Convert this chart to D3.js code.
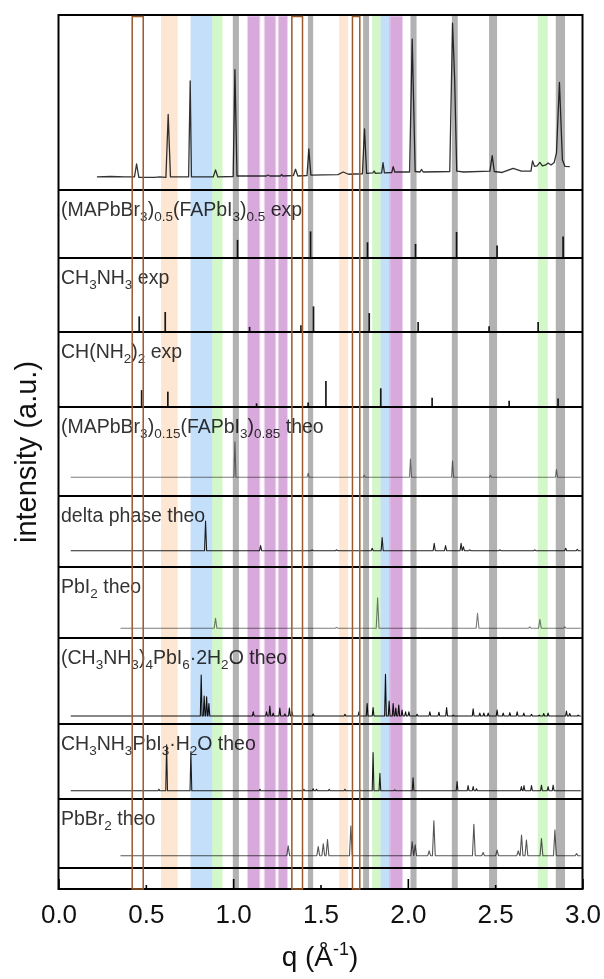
<!DOCTYPE html>
<html><head><meta charset="utf-8">
<script src="https://cdn.jsdelivr.net/npm/d3@7"></script>
<style>body{margin:0;background:#fff}</style>
</head><body>
<svg id="chart" width="604" height="979"></svg>
<script>
// ---------------- DATA ----------------
const xTicks = [0.0, 0.5, 1.0, 1.5, 2.0, 2.5, 3.0];

const panelLabels = [
  "(MAPbBr_{3})_{0.5}(FAPbI_{3})_{0.5} exp",
  "CH_{3}NH_{3} exp",
  "CH(NH_{2})_{2} exp",
  "(MAPbBr_{3})_{0.15}(FAPbI_{3})_{0.85} theo",
  "delta phase theo",
  "PbI_{2} theo",
  "(CH_{3}NH_{3})_{4}PbI_{6}·2H_{2}O theo",
  "CH_{3}NH_{3}PbI_{3}·H_{2}O theo",
  "PbBr_{2} theo"
];

// measured pattern (top panel): [q, intensity a.u.]
const measured = [[0.22,1.9],[0.30,2.2],[0.38,1.9],[0.435,1.9],[0.447,10],[0.46,1.6],[0.55,1.6],[0.58,1.9],[0.615,1.6],[0.628,41],[0.641,1.9],[0.745,1.9],[0.754,62],[0.761,1.9],[0.886,1.9],[0.899,6.3],[0.912,1.9],[1.0,2.2],[1.010,69],[1.022,2.5],[1.19,2.5],[1.199,3.1],[1.21,2.5],[1.27,2.5],[1.277,3.4],[1.285,2.5],[1.345,2.8],[1.357,6.7],[1.37,2.5],[1.423,2.8],[1.433,19.4],[1.445,3.1],[1.60,3.4],[1.63,5],[1.66,3.6],[1.74,3.9],[1.752,32],[1.764,4.1],[1.80,4.4],[1.807,5.6],[1.815,4.1],[1.85,4.4],[1.858,10.8],[1.866,4.4],[1.908,4.7],[1.916,8.3],[1.925,5],[2.01,5],[2.025,88],[2.032,54],[2.042,5.3],[2.07,5],[2.078,6.6],[2.088,5],[2.24,5.3],[2.256,98],[2.268,63],[2.28,5.6],[2.32,5],[2.47,5.6],[2.483,15.2],[2.495,5.3],[2.54,4.7],[2.603,7.3],[2.65,5.6],[2.705,5.6],[2.714,11.9],[2.725,8.5],[2.74,8.8],[2.756,11],[2.77,8.8],[2.79,9.4],[2.803,10.6],[2.82,9.4],[2.838,11],[2.851,16.9],[2.868,61],[2.885,12.5],[2.9,8.5],[2.927,8.3]];

// stick patterns [q, relative intensity]
const mixExp = [[1.025,68],[1.443,100],[1.769,59],[2.044,53],[2.279,98],[2.511,47],[2.889,81]];
const maExp  = [[0.462,61],[0.611,78],[1.094,20],[1.388,26],[1.460,100],[1.779,74],[2.059,39],[2.465,22],[2.746,39]];
const faExp  = [[0.476,65],[0.626,59],[1.134,14],[1.429,17],[1.531,100],[1.845,72],[2.139,36],[2.580,24],[2.860,33]];

// theoretical patterns, peaks [q, relative intensity]
const mixTheo = [[1.010,100],[1.429,11],[1.75,6],[2.015,51],[2.256,46],[2.473,6],[2.851,22]];
const deltaTheo = [[0.842,100],[1.157,17],[1.452,3],[1.592,3],[1.796,8],[1.853,44],[2.151,25],[2.216,17],[2.305,25],[2.318,13],[2.355,3],[2.527,3],[2.727,3],[2.904,8],[2.97,5]];
const pbi2Theo = [[0.899,33],[1.592,3],[1.827,100],[2.399,49],[2.698,5],[2.756,29],[2.899,5]];
const dihydrateTheo = [[0.817,98],[0.834,48],[0.848,46],[0.861,30],[1.115,10],[1.191,10],[1.21,24],[1.229,7],[1.267,19],[1.296,5],[1.322,19],[1.337,10],[1.458,5],[1.64,4],[1.72,10],[1.767,30],[1.801,20],[1.872,100],[1.893,36],[1.916,30],[1.931,19],[1.948,26],[1.967,14],[1.987,10],[2.006,10],[2.053,4],[2.126,10],[2.178,9],[2.222,20],[2.26,2],[2.374,17],[2.412,7],[2.435,7],[2.46,7],[2.511,14],[2.546,7],[2.584,8],[2.626,10],[2.664,7],[2.708,4],[2.752,2],[2.778,6],[2.803,7],[2.908,12],[2.927,6],[2.975,2]];
const monohydrateTheo = [[0.575,3],[0.619,100],[0.758,85],[1.153,3],[1.405,3],[1.458,4],[1.477,3],[1.55,3],[1.64,3],[1.725,2],[1.801,83],[1.84,38],[1.925,2],[2.03,28],[2.282,20],[2.345,11],[2.374,9],[2.393,4],[2.65,9],[2.665,11],[2.708,11],[2.765,12],[2.803,9],[2.832,12]];
const pbbr2Theo = [[1.315,28],[1.487,26],[1.516,34],[1.54,46],[1.674,85],[2.025,40],[2.042,31],[2.122,14],[2.149,100],[2.378,90],[2.431,9],[2.511,16],[2.632,14],[2.651,59],[2.679,45],[2.765,49],[2.842,73],[2.966,6]];

// highlighted q ranges
const orangeBands = [[0.587,0.682],[1.607,1.658]];
const blueBands   = [[0.756,0.880],[1.844,1.897]];
const greenBands  = [[0.880,0.939],[1.796,1.844],[2.744,2.801]];
const grayBands   = [[0.998,1.033],[1.428,1.458],[1.744,1.778],[2.015,2.050],[2.252,2.286],[2.465,2.511],[2.847,2.900]];
const purpleBands = [[1.082,1.153],[1.178,1.244],[1.258,1.311],[1.897,1.970]];
const brownBoxes  = [[0.422,0.485],[1.336,1.397],[1.683,1.725]];

// ---------------- LAYOUT ----------------
const FONT = "'Liberation Sans', Arial, Helvetica, sans-serif";
const svg = d3.select("#chart");
const x = d3.scaleLinear().domain([0, 3]).range([58.5, 582.5]);
const frameTop = 15, frameBottom = 889;
const dividers = [190, 258, 332, 407, 496, 567, 638, 724, 799, 868];

// top panel
const yTop = d3.scaleLinear().domain([0, 100]).range([180, 20]);
svg.append("path").datum(measured)
  .attr("d", d3.line().x(d => x(d[0])).y(d => yTop(d[1])))
  .attr("fill", "none").attr("stroke", "#333").attr("stroke-width", 1.3)
  .attr("stroke-linejoin", "round");

// stick panels
const stickPanels = [
  {data: mixExp, base: 258, full: 231.4},
  {data: maExp,  base: 332, full: 306.4},
  {data: faExp,  base: 407, full: 381}
];
stickPanels.forEach(p => {
  const y = d3.scaleLinear().domain([0, 100]).range([p.base, p.full]);
  svg.append("g").selectAll("line").data(p.data).join("line")
    .attr("x1", d => x(d[0])).attr("x2", d => x(d[0]))
    .attr("y1", y(0)).attr("y2", d => y(d[1]))
    .attr("stroke", "#1a1a1a").attr("stroke-width", 1.7);
});

// theoretical traces
const theoPanels = [
  {data: mixTheo, base: 477.3, full: 441.7, start: 0.07, end: 2.99, hw: 0.006, color: "#7d7d7d"},
  {data: deltaTheo, base: 550.7, full: 521, start: 0.07, end: 2.99, hw: 0.006, color: "#222"},
  {data: pbi2Theo, base: 628.3, full: 597.7, start: 0.355, end: 2.99, hw: 0.008, color: "#7d7d7d"},
  {data: dihydrateTheo, base: 716, full: 674.3, start: 0.07, end: 2.99, hw: 0.005, color: "#111"},
  {data: monohydrateTheo, base: 790.7, full: 744.7, start: 0.07, end: 2.99, hw: 0.005, color: "#222"},
  {data: pbbr2Theo, base: 855.7, full: 820.7, start: 0.355, end: 2.99, hw: 0.008, color: "#555"}
];
theoPanels.forEach(p => {
  const y = d3.scaleLinear().domain([0, 100]).range([p.base, p.full]);
  const pts = [[p.start, 0]];
  p.data.forEach(([q, h]) => pts.push([q - p.hw, 0], [q, h], [q + p.hw, 0]));
  pts.push([p.end, 0]);
  pts.sort((a, b) => a[0] - b[0]);
  svg.append("path").datum(pts)
    .attr("d", d3.line().x(d => x(d[0])).y(d => y(d[1])))
    .attr("fill", "none").attr("stroke", p.color).attr("stroke-width", 1.1)
    .attr("stroke-linejoin", "round");
});

// panel labels
const labelTops = [190, 258, 332, 407, 496, 567, 638, 724, 799];
panelLabels.forEach((lab, i) => {
  const t = svg.append("text").attr("x", 61).attr("y", labelTops[i] + 26)
    .attr("font-family", FONT).attr("font-size", 19.5).attr("fill", "#333");
  const parts = lab.split(/(_\{[^}]*\})/).filter(s => s.length);
  let shifted = false;
  parts.forEach(s => {
    if (s.startsWith("_{")) {
      t.append("tspan").text(s.slice(2, -1)).attr("font-size", 13.5).attr("dy", shifted ? 0 : 5);
      shifted = true;
    } else {
      t.append("tspan").text(s).attr("dy", shifted ? -5 : 0);
      shifted = false;
    }
  });
});

// frame and dividers
const frame = svg.append("g").attr("stroke", "#000");
frame.append("rect").attr("x", x(0)).attr("y", frameTop).attr("width", x(3) - x(0))
  .attr("height", frameBottom - frameTop).attr("fill", "none").attr("stroke-width", 2);
frame.selectAll("line.div").data(dividers).join("line").attr("class", "div")
  .attr("x1", x(0)).attr("x2", x(3)).attr("y1", d => d).attr("y2", d => d)
  .attr("stroke-width", 1.9);

// highlight bands (multiplied over everything)
const bandGroup = svg.append("g");
const bandSets = [
  {data: orangeBands, fill: "#fde6d2"},
  {data: blueBands, fill: "#c4dffa"},
  {data: greenBands, fill: "#d4f7c9"},
  {data: grayBands, fill: "#b2b2b2"},
  {data: purpleBands, fill: "#d8aadc", stroke: "#eed6f2"}
];
bandSets.forEach(b => {
  bandGroup.append("g").selectAll("rect").data(b.data).join("rect")
    .attr("x", d => x(d[0])).attr("width", d => x(d[1]) - x(d[0]))
    .attr("y", frameTop + 1).attr("height", frameBottom - frameTop - 1)
    .attr("fill", b.fill)
    .attr("stroke", b.stroke || "none").attr("stroke-width", 1)
    .style("mix-blend-mode", "multiply");
});
svg.append("g").selectAll("rect").data(brownBoxes).join("rect")
  .attr("x", d => x(d[0])).attr("width", d => x(d[1]) - x(d[0]))
  .attr("y", frameTop + 1.5).attr("height", frameBottom - frameTop - 1.5)
  .attr("fill", "none").attr("stroke", "#9a5a2b").attr("stroke-width", 1.5);

// x axis
const axis = d3.axisBottom(x).tickValues(xTicks).tickFormat(d3.format(".1f")).tickSize(0).tickPadding(0);
const gAx = svg.append("g").attr("transform", `translate(0,${frameBottom})`).call(axis)
  .attr("font-family", FONT).attr("font-size", 26);
gAx.select(".domain").remove();
gAx.selectAll(".tick line").attr("y2", d => (Math.abs(d % 1) < 1e-9 ? -10 : -4))
  .attr("stroke", "#000").attr("stroke-width", 1.6);
gAx.selectAll(".tick text").attr("y", 34).attr("dy", 0).attr("fill", "#111");

// axis titles
const xt = svg.append("text").attr("x", 320).attr("y", 966).attr("text-anchor", "middle")
  .attr("font-family", FONT).attr("font-size", 28).attr("fill", "#111");
xt.append("tspan").text("q (Å");
xt.append("tspan").text("-1").attr("font-size", 18).attr("dy", -11);
xt.append("tspan").text(")").attr("dy", 11);

svg.append("text").attr("transform", "translate(36,452) rotate(-90)")
  .attr("text-anchor", "middle").attr("font-family", FONT).attr("font-size", 29)
  .attr("fill", "#111").text("intensity (a.u.)");
</script>
</body></html>
